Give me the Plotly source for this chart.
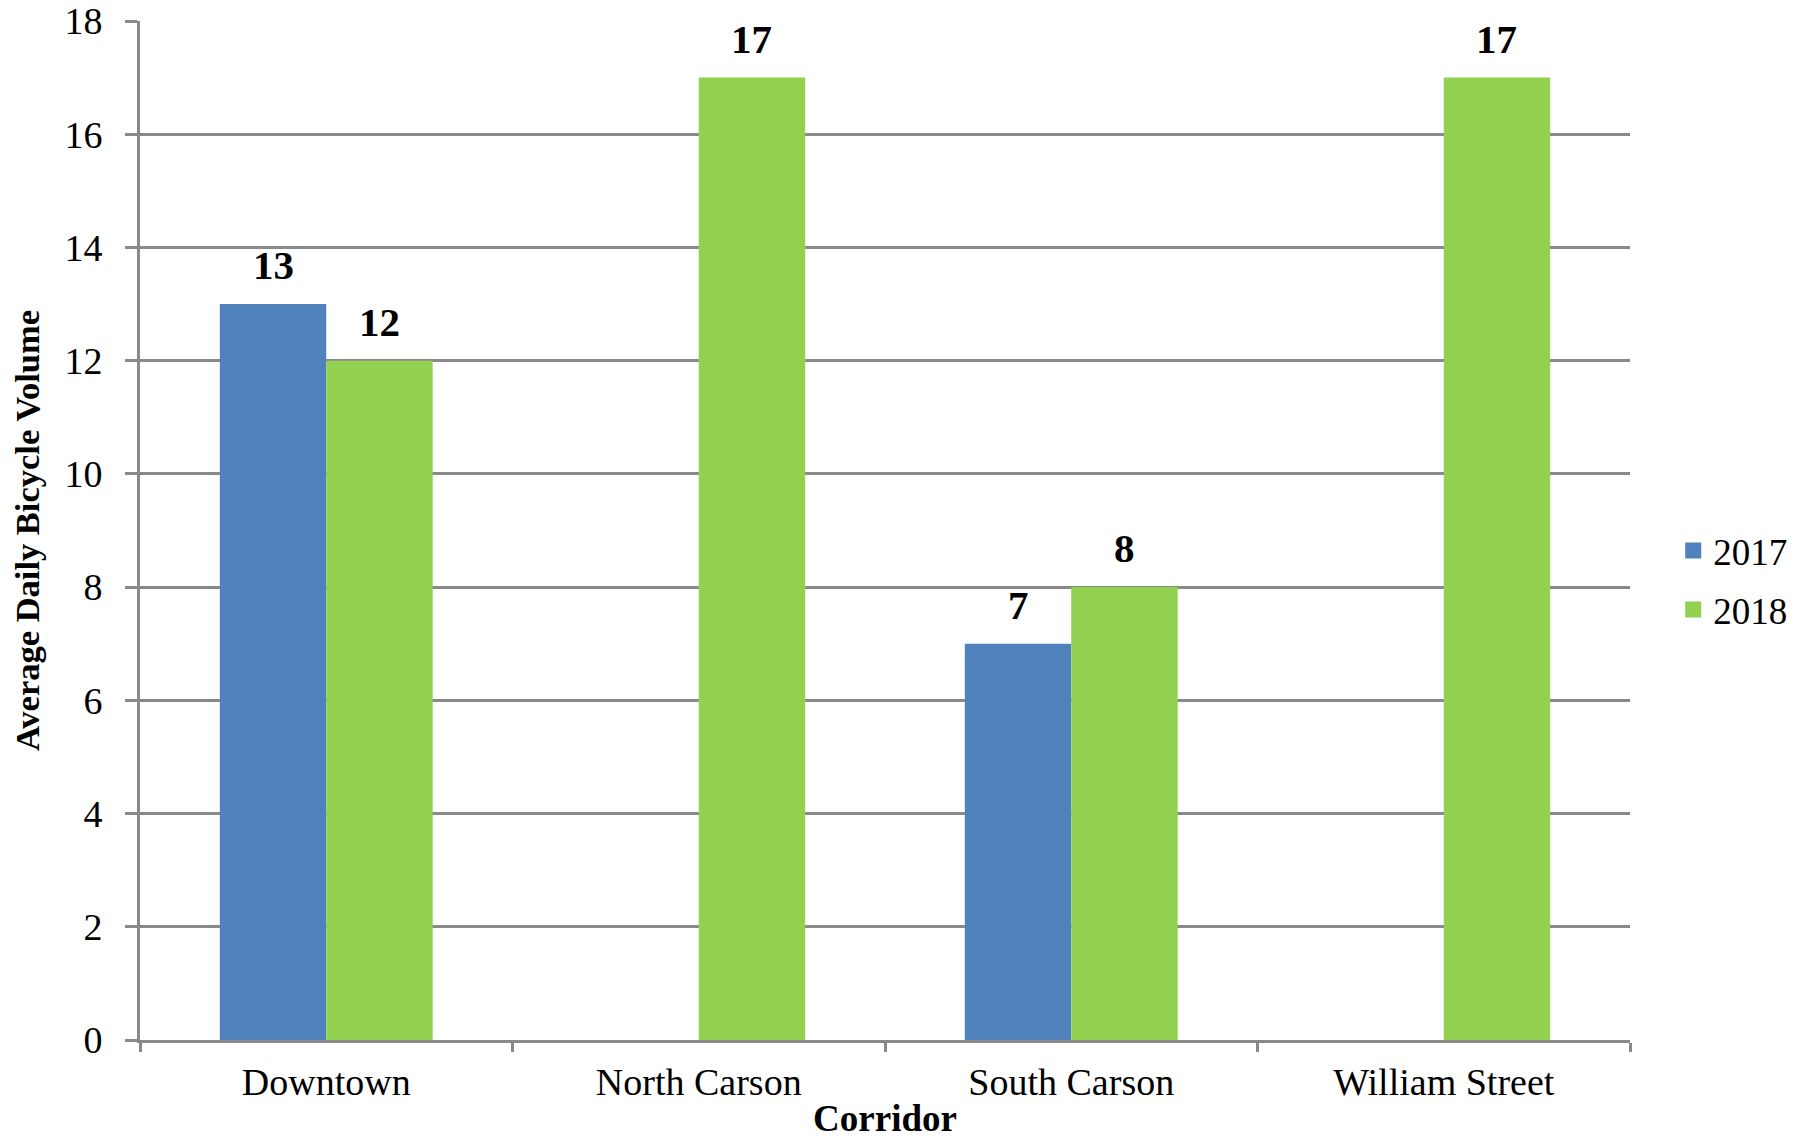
import plotly.graph_objects as go

categories = ["Downtown", "North Carson", "South Carson", "William Street"]
values_2017 = [13, None, 7, None]
values_2018 = [12, 17, 8, 17]
series_names = ["2017", "2018"]
y_ticks = [0, 2, 4, 6, 8, 10, 12, 14, 16, 18]

colors = ["#4F81BD", "#92D050"]
font_family = "Liberation Serif, Times New Roman, serif"

fig = go.Figure()
for name, vals, col in zip(series_names, [values_2017, values_2018], colors):
    fig.add_trace(go.Bar(
        x=categories, y=vals, name=name, legendgroup=name, showlegend=False,
        marker=dict(color=col, line=dict(width=0)),
    ))
# legend entries with larger square swatches
for name, col in zip(series_names, colors):
    fig.add_trace(go.Scatter(
        x=[None], y=[None], mode="markers", name=name, legendgroup=name,
        marker=dict(symbol="square", size=19, color=col),
        showlegend=True, hoverinfo="skip",
    ))

# data labels placed above each bar (half a bar width left/right of category centre)
half_bar_px = 53
for shift, vals in zip([-half_bar_px, half_bar_px], [values_2017, values_2018]):
    for cat, v in zip(categories, vals):
        if v is None:
            continue
        fig.add_annotation(
            x=cat, y=v, xref="x", yref="y", text=f"<b>{v}</b>",
            showarrow=False, xshift=shift, yshift=39, yanchor="middle",
            font=dict(family=font_family, size=41, color="black"),
        )

fig.update_layout(
    width=1810, height=1141,
    margin=dict(l=132, r=188, t=13, b=109, autoexpand=False),
    paper_bgcolor="white", plot_bgcolor="white",
    barmode="group", bargap=0.4286, bargroupgap=0,
    font=dict(family=font_family, size=30, color="black"),
    legend=dict(x=1.029, y=0.451, xanchor="left", yanchor="middle",
                font=dict(size=37, family=font_family), tracegroupgap=8,
                itemsizing="trace"),
    showlegend=True,
)
fig.update_xaxes(
    automargin=False,
    showline=True, linecolor="#898989", linewidth=3,
    ticks="outside", tickson="boundaries", ticklen=9, tickcolor="#898989", tickwidth=3,
    tickfont=dict(size=38, family=font_family),
    ticklabelstandoff=6,
    title=dict(text="<b>Corridor</b>", font=dict(size=37, family=font_family), standoff=4),
    showgrid=False,
)
fig.update_yaxes(
    automargin=False,
    range=[0, 18], tickvals=y_ticks,
    showline=True, linecolor="#898989", linewidth=3,
    ticks="outside", ticklen=12, tickcolor="#898989", tickwidth=3,
    showgrid=True, gridcolor="#898989", gridwidth=3,
    tickfont=dict(size=38, family=font_family),
    ticklabelstandoff=15, ticklabeloverflow="allow",
    title=dict(text="<b>Average Daily Bicycle Volume</b>", font=dict(size=34.5, family=font_family), standoff=16),
    zeroline=False,
)

fig.write_html("out.html")
